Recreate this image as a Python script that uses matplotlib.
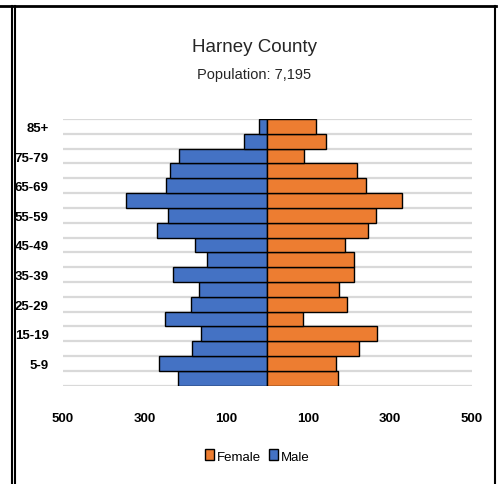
import matplotlib.pyplot as plt
from matplotlib.lines import Line2D
from matplotlib.patches import Patch
from matplotlib import font_manager
import numpy as np

# age groups, bottom to top
age_groups = ['0-4', '5-9', '10-14', '15-19', '20-24', '25-29', '30-34', '35-39',
              '40-44', '45-49', '50-54', '55-59', '60-64', '65-69', '70-74',
              '75-79', '80-84', '85+']
male = [217, 265, 185, 163, 250, 187, 167, 231, 147, 176, 269, 242, 346, 248, 237, 216, 56, 21]
female = [173, 169, 224, 269, 88, 195, 176, 213, 213, 189, 247, 266, 330, 242, 220, 91, 143, 120]
x_ticks = [-500, -300, -100, 100, 300, 500]

names = {f.name for f in font_manager.fontManager.ttflist}
fam = 'Liberation Sans Narrow' if 'Liberation Sans Narrow' in names else 'Liberation Sans'
plt.rcParams['font.family'] = [fam, 'DejaVu Sans']

W, H = 500, 485
fig = plt.figure(figsize=(W / 100, H / 100), dpi=100)
ax = fig.add_axes([62.7 / W, 1 - 386.7 / H, 409 / W, 266.7 / H])

y = np.arange(len(age_groups))
ax.barh(y, [-m for m in male], height=1, color='#4472C4', edgecolor='black', linewidth=1, zorder=3)
ax.barh(y, female, height=1, color='#ED7D31', edgecolor='black', linewidth=1, zorder=3)

# gridlines between age groups
for b in np.arange(-0.5, len(age_groups), 1):
    ax.axhline(b, color='#d9d9d9', linewidth=1.6, zorder=1)

ax.set_xlim(-500, 500)
ax.set_ylim(-0.5, len(age_groups) - 0.5)
ax.set_xticks(x_ticks)
ax.set_xticklabels([str(abs(t)) for t in x_ticks], fontsize=9.5, fontweight='bold')
ax.set_yticks(y[1::2])
ax.set_yticklabels(age_groups[1::2], fontsize=9.5, fontweight='bold')
ax.tick_params(axis='both', length=0)
ax.tick_params(axis='x', pad=19)
ax.tick_params(axis='y', pad=10)
for s in ax.spines.values():
    s.set_visible(False)

fig.text(0.508, 1 - 47 / H, 'Harney County', ha='center', va='center', fontsize=13.5, color='#262626')
fig.text(0.508, 1 - 75 / H, 'Population: 7,195', ha='center', va='center', fontsize=10.5, color='#262626')

handles = [Patch(facecolor='#ED7D31', edgecolor='black', label='Female'),
           Patch(facecolor='#4472C4', edgecolor='black', label='Male')]
fig.legend(handles=handles, loc='center', bbox_to_anchor=(0.515, 1 - 457 / H), ncol=2,
           frameon=False, fontsize=9.5, handlelength=0.7, handleheight=0.9,
           handletextpad=0.2, columnspacing=0.6)

# frame lines
def fline(x0, y0, x1, y1, lw=2):
    fig.add_artist(Line2D([x0 / W, x1 / W], [1 - y0 / H, 1 - y1 / H], color='black', linewidth=lw))

fline(0, 7, 496, 7, 2)
fline(11.5, 7, 11.5, 485, 1.5)
fline(14.5, 7, 14.5, 485, 1.5)
fline(494.5, 7, 494.5, 485, 1.5)

fig.savefig('out.png', dpi=100)
